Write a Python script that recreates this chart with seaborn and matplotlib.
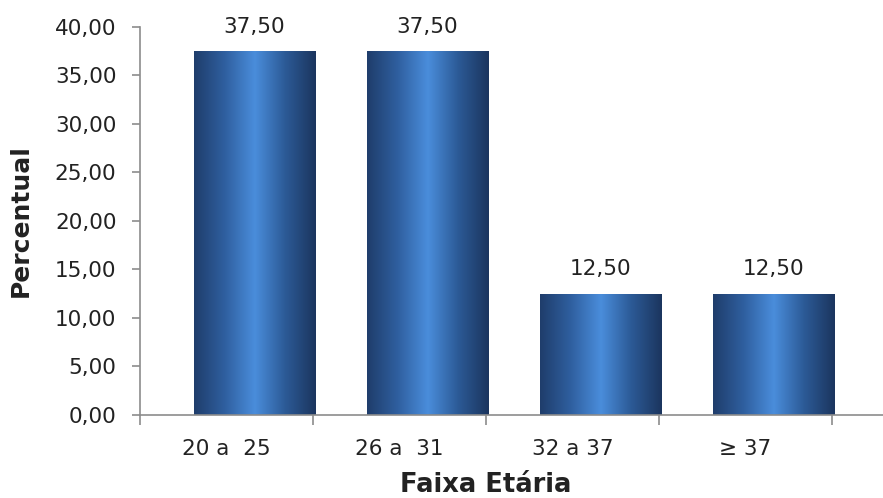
import numpy as np
import matplotlib
matplotlib.use("Agg")
import matplotlib.pyplot as plt
import matplotlib.ticker as mticker
from matplotlib.colors import LinearSegmentedColormap
import seaborn as sns

# data
categories = ["20 a  25", "26 a  31", "32 a 37", "\u2265 37"]
percentual = [37.50, 37.50, 12.50, 12.50]
y_ticks = [0, 5, 10, 15, 20, 25, 30, 35, 40]

sns.set_theme(style="white")
plt.rcParams["font.family"] = ["DejaVu Sans"]

AXIS_GRAY = "#8c8c8c"
TEXT_COLOR = "#222222"
bar_cmap = LinearSegmentedColormap.from_list(
    "bar_grad", ["#1f3d6b", "#2f5f9f", "#4a8ddb", "#2c5a96", "#1b355e"])


def fmt_br(v, pos=None):
    return f"{v:.2f}".replace(".", ",")


fig = plt.figure(figsize=(8.83, 4.98), dpi=100)
ax = fig.add_axes([0.1586, 0.1667, 0.8414, 0.7791])

sns.barplot(x=categories, y=percentual, color="#2f5f9f", width=0.70, ax=ax)

shift = 0.162
grad = np.linspace(0, 1, 256).reshape(1, -1)
for patch, val in zip(ax.patches, percentual):
    patch.set_x(patch.get_x() + shift)
    x0 = patch.get_x()
    w = patch.get_width()
    patch.set_facecolor("none")
    patch.set_edgecolor("none")
    im = ax.imshow(grad, cmap=bar_cmap, aspect="auto",
                   extent=(x0, x0 + w, 0, val), zorder=2)
    im.set_clip_path(patch)
    ax.text(x0 + w / 2, val + 1.5, fmt_br(val), ha="center", va="bottom",
            fontsize=15.5, color=TEXT_COLOR)

ax.set_xlim(-0.5, 3.795)
ax.set_ylim(0, 40)
ax.set_yticks(y_ticks)
ax.yaxis.set_major_formatter(mticker.FuncFormatter(fmt_br))

# category labels at centers, tick marks at category boundaries
ax.set_xticks(range(len(categories)))
ax.set_xticklabels(categories)
ax.set_xticks(np.arange(-0.5, len(categories), 1.0), minor=True)
ax.tick_params(axis="x", which="major", length=0, pad=17, labelsize=15.5,
               labelcolor=TEXT_COLOR)
ax.tick_params(axis="x", which="minor", length=7, width=1.2, color=AXIS_GRAY,
               direction="out", bottom=True)
ax.tick_params(axis="y", length=6, width=1.2, color=AXIS_GRAY, left=True,
               pad=11, labelsize=15.5, labelcolor=TEXT_COLOR)

for side in ["top", "right"]:
    ax.spines[side].set_visible(False)
for side in ["left", "bottom"]:
    ax.spines[side].set_color(AXIS_GRAY)
    ax.spines[side].set_linewidth(1.2)

ax.set_ylabel("Percentual", fontsize=18, fontweight="bold", color=TEXT_COLOR,
              labelpad=16)
ax.set_xlabel("Faixa Et\u00e1ria", fontsize=18.5, fontweight="bold",
              color=TEXT_COLOR, labelpad=10)
ax.xaxis.label.set_x(0.4657)

fig.savefig("out.png", dpi=100)
